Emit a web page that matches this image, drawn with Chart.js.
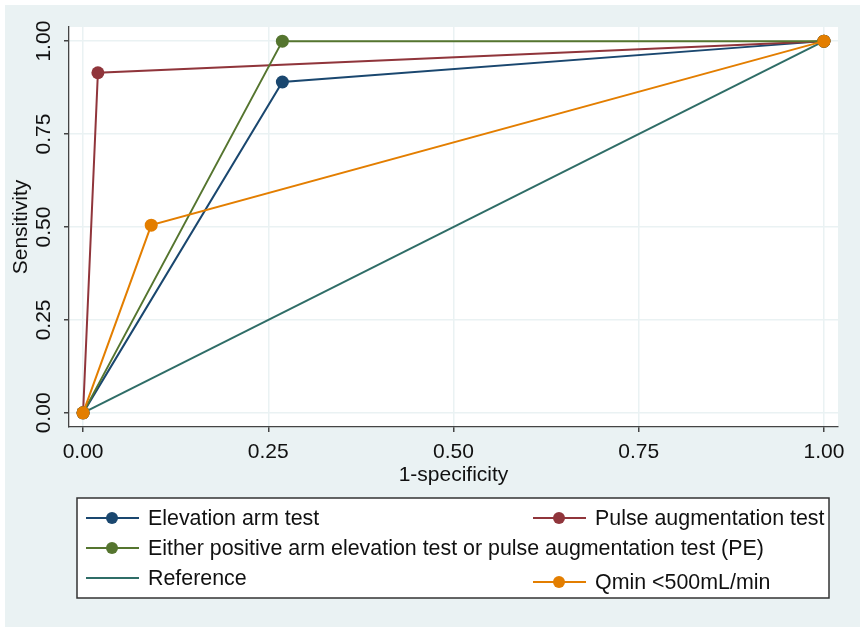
<!DOCTYPE html>
<html>
<head>
<meta charset="utf-8">
<script src="https://cdn.jsdelivr.net/npm/chart.js@4.4.1/dist/chart.umd.min.js"></script>
<style>
  body { margin: 0; background: #ffffff; }
  #wrap { width: 864px; height: 632px; }
</style>
</head>
<body>
<div id="wrap"><canvas id="roc" width="864" height="632"></canvas></div>
<script>
// ROC data (1-specificity, sensitivity)
const seriesNames = [
  "Elevation arm test",
  "Pulse augmentation test",
  "Either positive arm elevation test or pulse augmentation test (PE)",
  "Reference",
  "Qmin <500mL/min"
];
const elevX = [0, 0.269, 1];
const elevY = [0, 0.89, 1];
const pulseX = [0, 0.02, 1];
const pulseY = [0, 0.915, 1];
const eitherX = [0, 0.269, 1];
const eitherY = [0, 1, 1];
const refX = [0, 1];
const refY = [0, 1];
const qminX = [0, 0.092, 1];
const qminY = [0, 0.505, 1];
const tickVals = [0, 0.25, 0.5, 0.75, 1];

const colors = ["#1a476f", "#90353b", "#55752f", "#2f6d67", "#e37e00"];
const fontFam = "'Liberation Sans', Arial, sans-serif";

function toPoints(xs, ys) {
  return xs.map((x, i) => ({ x: x, y: ys[i] }));
}

// background panel + white plot region
const bgPlugin = {
  id: "stataBg",
  beforeDraw(chart) {
    const ctx = chart.ctx;
    const a = chart.chartArea;
    ctx.save();
    ctx.fillStyle = "#ffffff";
    ctx.fillRect(0, 0, chart.width, chart.height);
    ctx.fillStyle = "#eaf2f3";
    ctx.fillRect(5, 5, 855, 622);
    ctx.fillStyle = "#ffffff";
    ctx.fillRect(a.left, a.top, a.right - a.left, a.bottom - a.top);
    ctx.restore();
  }
};

// rotated y tick labels, like stata
const yLabelPlugin = {
  id: "yLabels",
  afterDraw(chart) {
    const ctx = chart.ctx;
    const ys = chart.scales.y;
    ctx.save();
    ctx.fillStyle = "#111";
    ctx.font = "21px " + fontFam;
    ctx.textAlign = "center";
    ctx.textBaseline = "middle";
    ys.ticks.forEach((t) => {
      const py = ys.getPixelForValue(t.value);
      ctx.save();
      ctx.translate(44, py);
      ctx.rotate(-Math.PI / 2);
      ctx.fillText(t.value.toFixed(2), 0, 0);
      ctx.restore();
    });
    ctx.restore();
  }
};

// legend box under the plot
const legendItems = [
  { idx: 0, x: 86, y: 518, marker: true },
  { idx: 1, x: 533, y: 518, marker: true },
  { idx: 2, x: 86, y: 548, marker: true },
  { idx: 3, x: 86, y: 578, marker: false },
  { idx: 4, x: 533, y: 582, marker: true }
];
const legendPlugin = {
  id: "boxLegend",
  afterDraw(chart) {
    const ctx = chart.ctx;
    ctx.save();
    ctx.fillStyle = "#ffffff";
    ctx.fillRect(77, 498, 752, 100);
    ctx.strokeStyle = "#333";
    ctx.lineWidth = 1.5;
    ctx.strokeRect(77, 498, 752, 100);
    ctx.font = "21.4px " + fontFam;
    ctx.textBaseline = "middle";
    ctx.textAlign = "left";
    legendItems.forEach((it) => {
      const c = colors[it.idx];
      ctx.strokeStyle = c;
      ctx.lineWidth = 2;
      ctx.beginPath();
      ctx.moveTo(it.x, it.y);
      ctx.lineTo(it.x + 53, it.y);
      ctx.stroke();
      if (it.marker) {
        ctx.fillStyle = c;
        ctx.beginPath();
        ctx.arc(it.x + 26, it.y, 6, 0, Math.PI * 2);
        ctx.fill();
      }
      ctx.fillStyle = "#111";
      ctx.fillText(seriesNames[it.idx], it.x + 62, it.y + 1);
    });
    ctx.restore();
  }
};

const allX = [elevX, pulseX, eitherX, refX, qminX];
const allY = [elevY, pulseY, eitherY, refY, qminY];
const drawOrder = [5, 4, 3, 2, 1];

const datasets = seriesNames.map((name, i) => ({
  label: name,
  data: toPoints(allX[i], allY[i]),
  borderColor: colors[i],
  backgroundColor: colors[i],
  borderWidth: 2,
  pointRadius: i === 3 ? 0 : 6.5,
  pointHoverRadius: i === 3 ? 0 : 6.5,
  pointBorderWidth: 0,
  tension: 0,
  order: drawOrder[i],
  clip: false
}));

const tickFont = { family: fontFam, size: 21 };

new Chart(document.getElementById("roc"), {
  type: "line",
  data: { datasets: datasets },
  options: {
    responsive: false,
    animation: false,
    devicePixelRatio: 1,
    layout: { padding: { left: 5, top: 27, right: 26, bottom: 135 } },
    plugins: {
      legend: { display: false },
      tooltip: { enabled: false }
    },
    scales: {
      x: {
        type: "linear",
        min: -0.019,
        max: 1.019,
        afterFit(scale) { scale.height = 70; },
        afterBuildTicks(scale) { scale.ticks = tickVals.map((v) => ({ value: v })); },
        ticks: {
          color: "#111",
          font: tickFont,
          padding: 8,
          maxRotation: 0,
          callback: (v) => Number(v).toFixed(2)
        },
        grid: { color: "#eaf2f3", lineWidth: 1.5, tickColor: "#444", tickLength: 5 },
        border: { color: "#444", width: 1.3 },
        title: {
          display: true,
          text: "1-specificity",
          color: "#111",
          font: tickFont,
          padding: { top: 0, bottom: 9 }
        }
      },
      y: {
        type: "linear",
        min: -0.038,
        max: 1.038,
        afterFit(scale) { scale.width = 64; },
        afterBuildTicks(scale) { scale.ticks = tickVals.map((v) => ({ value: v })); },
        ticks: {
          color: "rgba(0,0,0,0)",
          font: tickFont,
          callback: (v) => Number(v).toFixed(2)
        },
        grid: { color: "#eaf2f3", lineWidth: 1.5, tickColor: "#444", tickLength: 5 },
        border: { color: "#444", width: 1.3 },
        title: {
          display: true,
          text: "Sensitivity",
          color: "#111",
          font: tickFont,
          padding: { top: 4, bottom: 0 }
        }
      }
    }
  },
  plugins: [bgPlugin, yLabelPlugin, legendPlugin]
});
</script>
</body>
</html>
